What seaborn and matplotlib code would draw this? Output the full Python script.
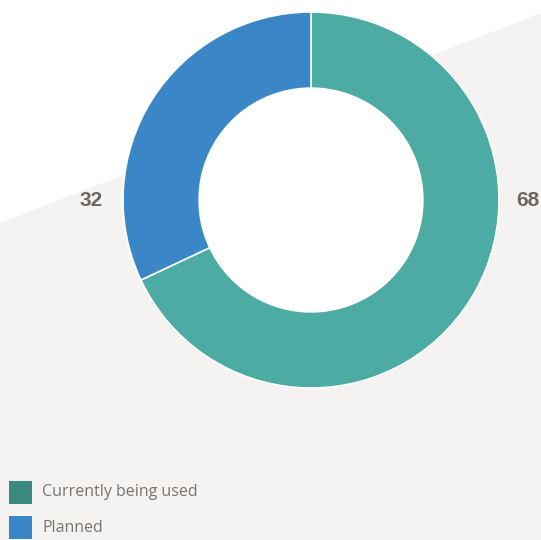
import matplotlib
matplotlib.use("Agg")
import matplotlib.pyplot as plt
import seaborn as sns
from matplotlib.patches import Rectangle, Circle

sns.set_style("white")
plt.rcParams["font.family"] = ["Open Sans", "DejaVu Sans"]

# Share of respondents
categories = ["Currently being used", "Planned"]
values = [68, 32]
slice_colors = ["#4caba3", "#3b86c6"]
legend_colors = ["#3b8a81", "#3b86c6"]

W, H = 541, 540
fig = plt.figure(figsize=(W / 100, H / 100), dpi=100)
ax = fig.add_axes([0, 0, 1, 1])

# light diagonal backdrop
ax.fill([0, W, W, 0], [H - 223, H - 13, 0, 0], color="#f4f3f1", zorder=0, lw=0)

cx, cy, r = 311, H - 200, 188
hole = r * 0.595
wedges, _ = ax.pie(
    values,
    colors=slice_colors,
    startangle=90,
    counterclock=False,
    radius=r,
    center=(cx, cy),
    frame=True,
    wedgeprops=dict(width=r - hole, edgecolor="white", linewidth=1.2),
)
for w in wedges:
    w.set_zorder(2)
ax.add_patch(Circle((cx, cy), hole, facecolor="white", edgecolor="none", zorder=1))

# value labels beside the ring
label_kw = dict(ha="center", va="center", fontsize=15, fontweight="bold",
                color="#6b6560", zorder=3, family=["Liberation Sans", "DejaVu Sans"])
ax.text(cx + r + 29, cy, str(values[0]), **label_kw)
ax.text(cx - r - 32, cy, str(values[1]), **label_kw)

# legend swatches with labels
for i, (name, c) in enumerate(zip(categories, legend_colors)):
    top = 481 + i * 35
    ax.add_patch(Rectangle((9, H - top - 23), 23, 23, facecolor=c,
                           edgecolor="none", zorder=3))
    ax.text(42, H - top - 11.5, name, ha="left", va="center",
            fontsize=11.5, color="#7a7470", zorder=3)

ax.set_xlim(0, W)
ax.set_ylim(0, H)
ax.set_aspect("auto")
ax.axis("off")

fig.savefig("out.png", dpi=100)
